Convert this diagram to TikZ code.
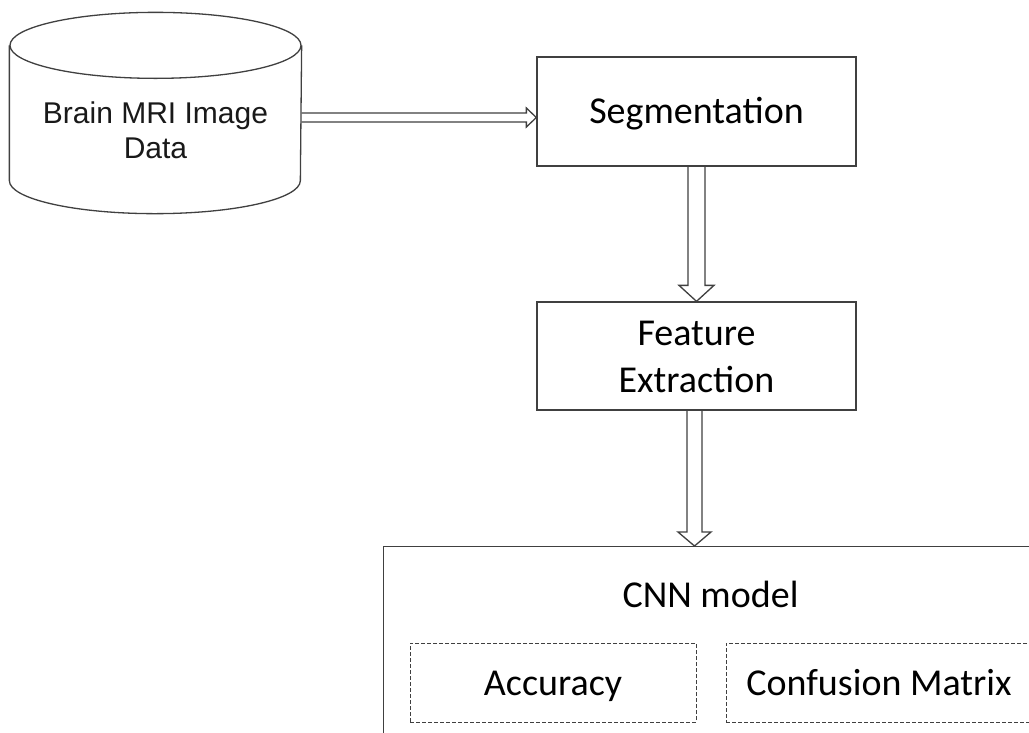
\documentclass[tikz,border=0pt]{standalone}
\usepackage{fontspec}
\usetikzlibrary{calc}
\newfontfamily\calfont{Carlito}
\newfontfamily\arifont{Liberation Sans}
\definecolor{linegray}{HTML}{404040}
\begin{document}
\begin{tikzpicture}[x=1pt,y=-1pt, line width=1.3pt,
  ln/.style={draw=linegray, line width=1.3pt, line join=miter},
  boxstyle/.style={draw=linegray, line width=1.3pt, rectangle, inner sep=0pt},
  dashbox/.style={draw=linegray, line width=1pt, dash pattern=on 4pt off 2pt, rectangle, inner sep=0pt},
  caltext/.style={font=\calfont\fontsize{38}{47}\selectfont, anchor=base, align=center, inner sep=0pt, text=black},
  aritext/.style={font=\arifont\fontsize{30}{35}\selectfont, anchor=base, align=center, inner sep=0pt, text=black!90}]
\useasboundingbox (0,0) rectangle (1029,732);
\clip (0,0) rectangle (1029,732);
\fill[white] (0,0) rectangle (1029,732);

% cylinder
\node[minimum width=291pt, minimum height=200pt, inner sep=0pt, draw=none] (db) at (155.5,113) {};
\draw[ln] ($(db.north west)+(0,33)$) -- ($(db.south west)+(0,-33)$)
  arc[start angle=180, end angle=0, x radius=145.5, y radius=33]
  -- ($(db.north east)+(0,33)$);
\draw[ln] ($(db.north)+(0,33)$) ellipse [x radius=145.5, y radius=33];
\node[aritext] (dbtext) at (155.5,158) {Brain MRI Image\\Data};

% boxes
\node[boxstyle, minimum width=319pt, minimum height=109pt] (seg) at (696.5,111.5) {};
\node[caltext] (segtext) at (696.5,123) {Segmentation};
\node[boxstyle, minimum width=319pt, minimum height=108pt] (feat) at (696.5,356) {};
\node[caltext] (feattext) at (696.5,392) {Feature\\Extraction};
\node[boxstyle, minimum width=717pt, minimum height=254pt, anchor=north west] (cnn) at (383,546) {};
\node[caltext] (cnntext) at (710.5,607) {CNN model};
\node[dashbox, minimum width=286pt, minimum height=79pt] (acc) at (553,682.5) {};
\node[caltext] (acctext) at (553,695) {Accuracy};
\node[dashbox, minimum width=306pt, minimum height=79pt] (conf) at (879,682.5) {};
\node[caltext] (conftext) at (879,695) {Confusion Matrix};

% arrow db -> seg
\coordinate (S1) at ($(db.east)+(0,4.5)$);
\coordinate (T1) at ($(seg.west)+(0,6)$);
\draw[ln] ($(S1)+(0,-4.5)$) -- ($(T1)+(-10,-4.5)$) -- ($(T1)+(-10,-9.5)$) -- (T1)
  -- ($(T1)+(-10,9.5)$) -- ($(T1)+(-10,4.5)$) -- ($(S1)+(0,4.5)$);

% arrow seg -> feat
\coordinate (S2) at (seg.south);
\coordinate (T2) at (feat.north);
\draw[ln] ($(S2)+(-8.5,0)$) -- ($(T2)+(-8.5,-16)$) -- ($(T2)+(-17.5,-16)$) -- (T2)
  -- ($(T2)+(17.5,-16)$) -- ($(T2)+(8.5,-16)$) -- ($(S2)+(8.5,0)$);

% arrow feat -> cnn
\coordinate (S3) at ($(feat.south)+(-2,0)$);
\coordinate (T3) at (S3 |- cnn.north);
\draw[ln] ($(S3)+(-7.5,0)$) -- ($(T3)+(-7.5,-14)$) -- ($(T3)+(-16.5,-14)$) -- (T3)
  -- ($(T3)+(16.5,-14)$) -- ($(T3)+(7.5,-14)$) -- ($(S3)+(7.5,0)$);
\end{tikzpicture}
\end{document}
